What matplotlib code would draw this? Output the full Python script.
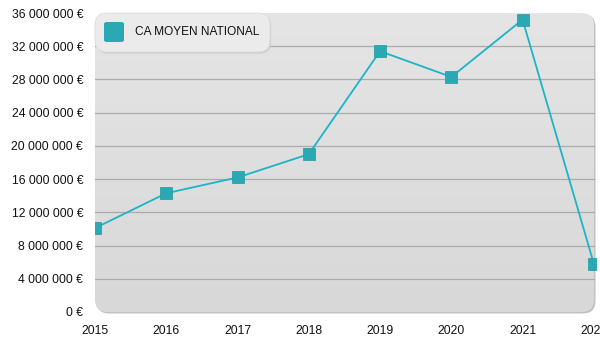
import matplotlib.pyplot as plt
from matplotlib.patches import FancyBboxPatch
from matplotlib.colors import LinearSegmentedColormap
from matplotlib.ticker import FuncFormatter
import numpy as np

plt.rcParams['font.family'] = ['Liberation Sans', 'DejaVu Sans']

years = [2015, 2016, 2017, 2018, 2019, 2020, 2021, 2022]
ca_moyen = [10100000, 14300000, 16200000, 19000000, 31400000, 28300000, 35200000, 5800000]
series_name = 'CA MOYEN NATIONAL'

line_color = '#1cb4c6'
marker_color = '#2aa9b5'

fig = plt.figure(figsize=(6, 3.5), dpi=100)
ax = fig.add_axes([95 / 600, 38 / 350, 501 / 600, 299 / 350])
ax.patch.set_visible(False)

# rounded panel with a soft shadow on the right/bottom edges
shadow = FancyBboxPatch((0.003, -0.005), 0.996, 1.0, boxstyle='round,pad=0,rounding_size=0.025',
                        transform=ax.transAxes, facecolor='#c2c2c2', edgecolor='none',
                        zorder=0, clip_on=False, mutation_aspect=501 / 299)
ax.add_patch(shadow)
panel = FancyBboxPatch((0, 0), 0.996, 1.0, boxstyle='round,pad=0,rounding_size=0.025',
                       transform=ax.transAxes, facecolor='none', edgecolor='none',
                       zorder=0.5, clip_on=False, mutation_aspect=501 / 299)
ax.add_patch(panel)
grad = np.linspace(0, 1, 256).reshape(-1, 1)
bg_cmap = LinearSegmentedColormap.from_list('bg', ['#d8d8d8', '#e5e5e5'])
img = ax.imshow(grad, extent=[0, 0.996, 0, 1], transform=ax.transAxes, aspect='auto',
                origin='lower', cmap=bg_cmap, zorder=0.6)
img.set_clip_path(panel)

ax.set_xlim(2015, 2022.03)
ax.set_ylim(0, 36000000)
ax.set_yticks(np.arange(0, 36000001, 4000000))
ax.set_xticks(years)
ax.yaxis.set_major_formatter(FuncFormatter(lambda v, p: f'{int(v):,} €'.replace(',', ' ')))

for y in np.arange(4000000, 36000000, 4000000):
    ax.plot([2015, 2022.0], [y, y], color='#ababab', lw=0.9, zorder=1)

for s in ax.spines.values():
    s.set_visible(False)
ax.tick_params(length=0, labelsize=8.7, colors='#111111')
ax.tick_params(axis='x', pad=9)
ax.tick_params(axis='y', pad=8.5)

ax.plot(years, ca_moyen, color=line_color, lw=1.3, zorder=3)
ax.plot(years, ca_moyen, ls='none', marker='s', ms=8.5, mfc=marker_color,
        mec='#1f98a4', mew=0.5, zorder=4)

# legend box
lx0, ly0, lw, lh = 95, 298, 175, 39
fig.patches.append(FancyBboxPatch((lx0 / 600 + 0.002, ly0 / 350 - 0.005), lw / 600, lh / 350,
                                  boxstyle='round,pad=0,rounding_size=0.02', transform=fig.transFigure,
                                  facecolor='#cfcfcf', edgecolor='none', zorder=5,
                                  mutation_aspect=600 / 350))
fig.patches.append(FancyBboxPatch((lx0 / 600, ly0 / 350), lw / 600, lh / 350,
                                  boxstyle='round,pad=0,rounding_size=0.02', transform=fig.transFigure,
                                  facecolor='#ebebeb', edgecolor='#dcdcdc', lw=0.6, zorder=6,
                                  mutation_aspect=600 / 350))
fig.patches.append(FancyBboxPatch((104 / 600, 308 / 350), 20 / 600, 20 / 350,
                                  boxstyle='round,pad=0,rounding_size=0.005', transform=fig.transFigure,
                                  facecolor=marker_color, edgecolor='none', zorder=7))
fig.text(135 / 600, 318 / 350, series_name, fontsize=8.6, va='center', ha='left',
         color='#111111', zorder=8)

fig.savefig('out.png', dpi=100)
